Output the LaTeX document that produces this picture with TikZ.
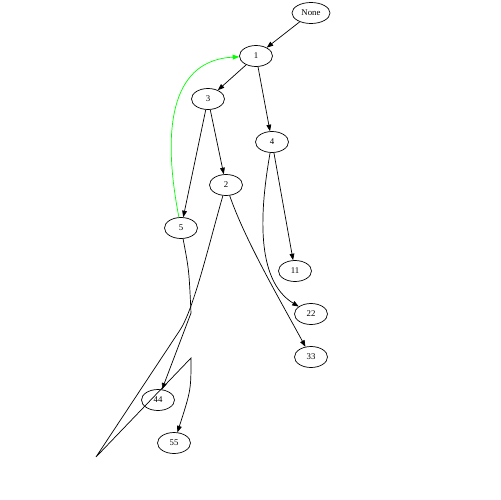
\documentclass[tikz,border=0pt]{standalone}
\usepackage{fontspec}
\setmainfont{Liberation Serif}
\usetikzlibrary{shapes.geometric,arrows.meta}

\begin{document}
\begin{tikzpicture}[x=.02cm,y=-.02cm,
  vertex/.style={draw,ellipse,minimum width=.66cm,minimum height=.42cm,inner sep=0pt,font=\fontsize{5}{6}\selectfont},
  edge/.style={-{Triangle[length=1.3mm,width=.95mm]},line width=.4pt}]

\useasboundingbox (0,0) rectangle (500,500);

\node[vertex,minimum width=.76cm] (none) at (311,13) {None};
\node[vertex] (n1) at (256,56) {1};
\node[vertex] (n3) at (208,99) {3};
\node[vertex] (n4) at (272,142) {4};
\node[vertex] (n2) at (226,185) {2};
\node[vertex] (n5) at (181,228) {5};
\node[vertex] (n11) at (295,271) {11};
\node[vertex] (n22) at (311,314) {22};
\node[vertex] (n33) at (311,357) {33};
\node[vertex] (n44) at (158,400) {44};
\node[vertex] (n55) at (174,443) {55};

\coordinate (k1) at (191,313);
\coordinate (k2) at (96,457);
\coordinate (k3) at (191,358);

\draw[edge] (none)--(n1);
\draw[edge] (n1)--(n3);
\draw[edge] (n1)--(n4);
\draw[edge] (n3)--(n5);
\draw[edge] (n3)--(n2);
\draw[edge] (n4)--(n11);
\draw[edge] (n4) .. controls (260,210) and (255,280) .. (n22);
\draw[edge] (n2) .. controls (245,240) and (280,300) .. (n33);
\draw[edge] (n5) .. controls (189,270) .. (k1)--(n44);
\draw[edge] (n2) .. controls (210,240) and (194,309) .. (180,330)--(k2)--(k3) .. controls (191,390) .. (n55);
\draw[edge,green] (n5) .. controls (160,120) and (175,60) .. (n1);

\end{tikzpicture}
\end{document}
